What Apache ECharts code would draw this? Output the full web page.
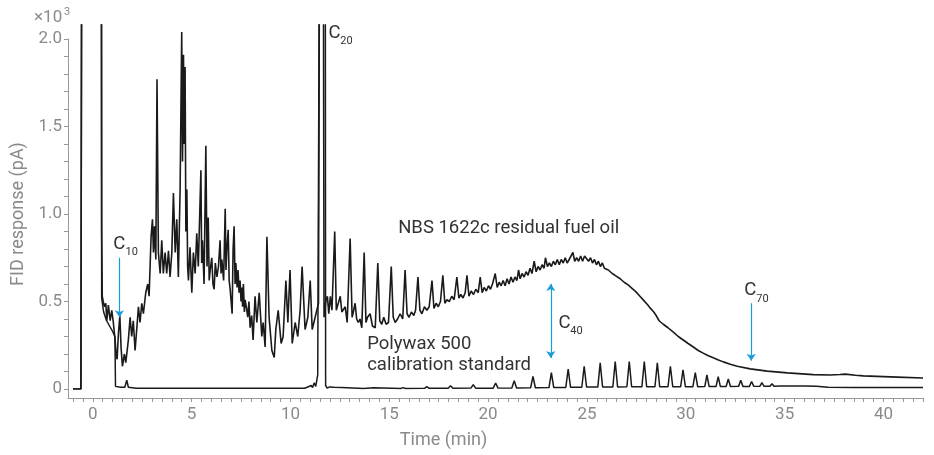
<!DOCTYPE html>
<html><head><meta charset="utf-8">
<script src="https://cdn.jsdelivr.net/npm/echarts@6/dist/echarts.min.js"></script>
<style>html,body{margin:0;padding:0;background:#fff}#c{width:934px;height:455px}</style>
</head><body><div id="c"></div>
<script>
// NBS 1622c residual fuel oil trace (time in min, response x10^3 pA); 3.0 = off-scale
const fuelTime = [-1.0,-0.6,-0.56,0.44,0.45,0.48,0.53,0.59,0.66,0.71,0.79,0.88,0.96,1.04,1.13,1.18,1.23,1.30,1.37,1.43,1.50,1.60,1.67,1.80,1.89,1.97,2.05,2.14,2.23,2.31,2.39,2.48,2.56,2.68,2.78,2.85,2.95,3.02,3.07,3.12,3.19,3.25,3.32,3.41,3.49,3.57,3.66,3.74,3.83,3.91,4.00,4.08,4.17,4.25,4.33,4.42,4.50,4.54,4.59,4.62,4.67,4.71,4.76,4.80,4.84,4.92,5.01,5.09,5.18,5.26,5.34,5.47,5.51,5.55,5.63,5.72,5.78,5.84,5.89,5.94,6.02,6.08,6.14,6.20,6.28,6.36,6.44,6.49,6.53,6.62,6.70,6.74,6.78,6.85,6.90,6.95,7.05,7.10,7.15,7.20,7.24,7.30,7.35,7.40,7.45,7.50,7.54,7.58,7.62,7.67,7.71,7.78,7.84,7.90,7.96,8.04,8.11,8.21,8.30,8.42,8.55,8.62,8.72,8.81,8.92,9.06,9.18,9.26,9.38,9.53,9.63,9.77,9.87,9.98,10.09,10.24,10.37,10.49,10.59,10.74,10.88,11.00,11.10,11.25,11.42,11.48,11.66,11.70,11.80,11.87,11.94,12.02,12.10,12.24,12.32,12.42,12.52,12.60,12.65,12.77,12.87,13.02,13.12,13.20,13.27,13.35,13.43,13.52,13.61,13.73,13.82,13.90,14.03,14.15,14.29,14.42,14.52,14.62,14.72,14.84,14.96,15.10,15.20,15.30,15.42,15.55,15.68,15.80,15.90,16.00,16.12,16.24,16.33,16.45,16.55,16.65,16.78,16.90,17.02,17.16,17.26,17.37,17.48,17.59,17.71,17.81,17.92,18.04,18.16,18.28,18.42,18.52,18.62,18.73,18.84,18.93,19.03,19.14,19.26,19.38,19.50,19.60,19.70,19.80,19.91,20.02,20.12,20.22,20.36,20.46,20.56,20.66,20.76,20.86,20.96,21.06,21.16,21.26,21.36,21.46,21.54,21.62,21.72,21.82,21.92,22.02,22.12,22.22,22.33,22.43,22.53,22.63,22.73,22.83,22.90,23.00,23.10,23.20,23.30,23.40,23.50,23.60,23.70,23.80,23.90,24.00,24.10,24.20,24.29,24.38,24.48,24.58,24.68,24.78,24.88,24.98,25.08,25.18,25.28,25.38,25.48,25.58,25.68,25.78,25.88,25.98,26.08,26.18,26.28,26.38,26.48,26.58,26.68,26.78,26.88,26.98,27.08,27.18,27.28,27.38,27.48,27.58,27.68,27.78,27.88,27.98,28.08,28.18,28.28,28.38,28.50,28.65,28.86,29.10,29.37,29.62,29.87,30.12,30.38,30.63,30.88,31.14,31.39,31.65,31.90,32.25,32.60,33.26,34.12,35.14,36.45,37.31,37.80,38.07,38.58,38.98,40.70,42.00];
const fuelResp = [0.0,0.0,3.0,3.0,0.90,0.53,0.50,0.47,0.49,0.39,0.48,0.39,0.45,0.38,0.28,0.20,0.17,0.32,0.42,0.24,0.13,0.20,0.15,0.28,0.41,0.30,0.39,0.22,0.35,0.47,0.38,0.49,0.43,0.55,0.60,0.53,0.87,0.97,0.78,0.93,0.74,1.77,0.78,0.66,0.85,0.66,0.78,0.66,0.79,0.64,0.78,1.12,0.78,0.97,0.64,1.15,2.04,1.30,1.91,1.40,1.84,0.90,1.14,0.70,0.62,0.81,0.55,0.78,0.66,0.89,0.70,1.25,0.72,0.85,0.60,1.39,0.70,0.98,0.62,0.68,0.75,0.60,0.57,0.72,0.64,0.70,0.85,0.66,0.74,0.62,1.03,0.68,0.79,0.91,0.62,0.57,0.43,0.80,0.93,0.60,0.72,0.58,0.68,0.55,0.62,0.50,0.58,0.47,0.60,0.44,0.51,0.46,0.41,0.50,0.35,0.42,0.28,0.53,0.38,0.55,0.30,0.38,0.24,0.87,0.41,0.22,0.18,0.34,0.45,0.26,0.30,0.62,0.38,0.68,0.26,0.38,0.30,0.45,0.70,0.34,0.41,0.62,0.34,0.41,0.49,3.0,3.0,0.41,0.51,0.53,0.43,0.53,0.45,0.90,0.45,0.49,0.53,0.44,0.43,0.47,0.38,0.86,0.41,0.45,0.49,0.40,0.38,0.40,0.35,0.78,0.38,0.41,0.43,0.36,0.35,0.72,0.39,0.37,0.41,0.37,0.38,0.70,0.41,0.38,0.40,0.43,0.40,0.68,0.43,0.41,0.44,0.42,0.45,0.64,0.45,0.43,0.47,0.45,0.47,0.62,0.46,0.49,0.47,0.50,0.65,0.49,0.51,0.50,0.53,0.51,0.64,0.52,0.54,0.52,0.55,0.65,0.53,0.56,0.54,0.57,0.55,0.64,0.55,0.58,0.56,0.59,0.57,0.60,0.66,0.58,0.61,0.59,0.62,0.59,0.63,0.60,0.64,0.61,0.64,0.62,0.68,0.63,0.66,0.64,0.67,0.65,0.69,0.66,0.73,0.67,0.70,0.68,0.71,0.69,0.75,0.70,0.72,0.70,0.73,0.71,0.74,0.71,0.74,0.72,0.75,0.72,0.74,0.73,0.78,0.73,0.75,0.73,0.76,0.73,0.76,0.77,0.73,0.75,0.72,0.74,0.71,0.73,0.70,0.72,0.69,0.70,0.68,0.69,0.66,0.67,0.645,0.65,0.63,0.635,0.61,0.615,0.595,0.59,0.575,0.57,0.555,0.55,0.53,0.525,0.505,0.50,0.48,0.465,0.455,0.44,0.42,0.39,0.37,0.35,0.325,0.30,0.28,0.26,0.24,0.22,0.205,0.19,0.178,0.166,0.155,0.142,0.13,0.115,0.102,0.092,0.082,0.080,0.083,0.085,0.079,0.075,0.068,0.063];
// Polywax 500 calibration standard trace
const polyTime = [-1.0,-0.6,-0.55,0.43,0.45,0.55,0.70,0.85,1.00,1.12,1.15,1.40,1.62,1.72,1.80,2.20,5.60,5.70,5.80,9.50,9.55,9.65,10.70,10.85,10.95,11.05,11.12,11.20,11.28,11.38,11.48,11.76,11.78,11.86,11.98,12.08,12.20,12.30,12.60,12.70,13.70,14.20,14.30,15.58,15.70,15.82,16.78,16.90,17.02,17.98,18.10,18.22,19.13,19.25,19.37,20.26,20.38,20.50,21.20,21.32,21.44,22.15,22.27,22.39,23.08,23.20,23.32,23.93,24.05,24.17,24.74,24.86,24.98,25.55,25.67,25.79,26.31,26.43,26.55,27.02,27.14,27.26,27.78,27.90,28.02,28.44,28.56,28.68,29.10,29.22,29.34,29.74,29.86,29.98,30.36,30.48,30.60,30.96,31.07,31.18,31.53,31.64,31.75,32.04,32.15,32.26,32.67,32.78,32.89,33.22,33.33,33.44,33.75,33.85,33.95,34.26,34.36,34.46,34.77,34.87,34.97,35.30,35.40,35.50,35.80,35.90,36.00,36.60,37.20,38.50,42.00];
const polyResp = [0.0,0.0,3.0,3.0,0.52,0.44,0.39,0.36,0.33,0.30,0.015,0.01,0.01,0.05,0.01,0.004,0.004,0.01,0.004,0.004,0.008,0.004,0.004,0.01,0.005,0.02,0.008,0.035,0.015,0.08,3.0,3.0,0.02,0.005,0.012,0.004,0.01,0.004,0.008,0.003,0.003,0.007,0.003,0.003,0.008,0.003,0.004,0.013,0.004,0.004,0.018,0.004,0.005,0.025,0.005,0.005,0.034,0.005,0.006,0.047,0.006,0.007,0.072,0.007,0.008,0.093,0.008,0.009,0.114,0.010,0.010,0.130,0.011,0.011,0.150,0.012,0.012,0.157,0.012,0.013,0.157,0.013,0.013,0.157,0.013,0.013,0.150,0.013,0.013,0.130,0.013,0.013,0.110,0.013,0.013,0.093,0.013,0.014,0.080,0.014,0.014,0.070,0.014,0.014,0.057,0.014,0.015,0.050,0.015,0.015,0.043,0.015,0.016,0.036,0.016,0.016,0.030,0.016,0.017,0.026,0.017,0.017,0.023,0.017,0.017,0.020,0.017,0.016,0.010,0.008,0.008];

const fuelData = fuelTime.map((t, i) => [t, fuelResp[i]]);
const polyData = polyTime.map((t, i) => [t, polyResp[i]]);

// annotation texts [text, time, response, fontSize]
const labelTexts = [
  ['C', 1.03, 0.829, 18.5], ['10', 1.66, 0.783, 11],
  ['C', 11.92, 2.034, 18.5], ['20', 12.52, 1.989, 11],
  ['C', 23.56, 0.373, 18.5], ['40', 24.16, 0.331, 11],
  ['C', 32.96, 0.564, 18.5], ['70', 33.57, 0.514, 11],
  ['NBS 1622c residual fuel oil', 15.45, 0.92, 18.5],
  ['Polywax 500\ncalibration standard', 13.88, 0.194, 18.5]
];
// arrows [time, fromResp, toResp, doubleHeaded]
const arrows = [[1.35, 0.75, 0.41, false], [23.17, 0.60, 0.177, true], [33.31, 0.49, 0.162, false]];

const gray = '#8a8a8a';
const axisCol = '#999999';
const font = 'Roboto, "Noto Sans", sans-serif';

const chart = echarts.init(document.getElementById('c'), null, {renderer: 'canvas'});
chart.setOption({
  animation: false,
  backgroundColor: '#fff',
  title: [
    {text: '×10', left: 29, top: 4, textStyle: {color: gray, fontSize: 17, fontWeight: 'normal', fontFamily: font}},
    {text: '3', left: 59, top: 2, textStyle: {color: gray, fontSize: 11, fontWeight: 'normal', fontFamily: font}}
  ],
  grid: [
    {left: 68, right: 11, top: 39, bottom: 57, outerBoundsMode: 'none'},
    {left: 73, right: 11, top: 39, bottom: 66, outerBoundsMode: 'none'},
    {left: 73, right: 11, top: 25, bottom: 66, outerBoundsMode: 'none'}
  ],
  xAxis: [
    {gridIndex: 0, type: 'value', min: 0, max: 1, position: 'bottom', axisLine: {show: true, onZero: false, lineStyle: {color: axisCol, width: 1}}, axisTick: {show: false}, axisLabel: {show: false}, splitLine: {show: false}},
    {gridIndex: 1, type: 'value', min: -1, max: 42, interval: 0.5, offset: 9, position: 'bottom',
      axisLine: {show: false, onZero: false},
      axisTick: {show: true, length: 4, lineStyle: {color: axisCol}},
      axisLabel: {color: gray, fontSize: 17, fontFamily: font, margin: 8,
        formatter: v => { const r = Math.round(v); return (Math.abs(v - r) < 1e-6 && r % 5 === 0) ? String(r) : ''; }},
      splitLine: {show: false},
      name: 'Time (min)', nameLocation: 'middle', nameGap: 33,
      nameTextStyle: {color: gray, fontSize: 18, fontFamily: font, padding: [0, 109, 0, 0]}},
    {gridIndex: 2, type: 'value', min: -1, max: 42, show: false, axisLine: {onZero: false}}
  ],
  yAxis: [
    {gridIndex: 0, type: 'value', min: 0, max: 1, position: 'left', axisLine: {show: true, onZero: false, lineStyle: {color: axisCol, width: 1}}, axisTick: {show: false}, axisLabel: {show: false}, splitLine: {show: false}},
    {gridIndex: 1, type: 'value', min: 0, max: 2, interval: 0.1, offset: 5, position: 'left',
      axisLine: {show: false, onZero: false},
      axisTick: {show: true, length: 4, lineStyle: {color: axisCol}},
      axisLabel: {color: gray, fontSize: 17, fontFamily: font, margin: 6,
        formatter: v => { const k = Math.round(v * 2); return Math.abs(v * 2 - k) < 1e-6 ? (k === 0 ? '0' : (k / 2).toFixed(1)) : ''; }},
      splitLine: {show: false},
      name: 'FID response (pA)', nameLocation: 'middle', nameGap: 40,
      nameTextStyle: {color: gray, fontSize: 18, fontFamily: font}},
    {gridIndex: 2, type: 'value', min: 0, max: 2.08, show: false, axisLine: {onZero: false}}
  ],
  series: [
    {
      name: 'Polywax 500', type: 'line', xAxisIndex: 2, yAxisIndex: 2, data: polyData,
      showSymbol: false, symbol: 'none', clip: true, silent: true,
      lineStyle: {color: '#1a1a1a', width: 1.5}
    },
    {
      name: 'NBS 1622c', type: 'line', xAxisIndex: 2, yAxisIndex: 2, data: fuelData,
      showSymbol: false, symbol: 'none', clip: true, silent: true,
      lineStyle: {color: '#1a1a1a', width: 1.6},
      markLine: {
        silent: true, animation: false, symbolSize: 7,
        label: {show: false},
        lineStyle: {color: '#1b9bd8', width: 1.2, type: 'solid'},
        emphasis: {disabled: true},
        data: arrows.map(a => [
          {coord: [a[0], a[1]], symbol: a[3] ? 'arrow' : 'none'},
          {coord: [a[0], a[2]], symbol: 'arrow'}
        ])
      },
      markPoint: {
        silent: true, animation: false, symbol: 'circle', symbolSize: 1,
        itemStyle: {color: 'rgba(0,0,0,0)'},
        data: labelTexts.map(l => ({
          name: l[0], coord: [l[1], l[2]],
          label: {show: true, position: 'inside', align: 'left', verticalAlign: 'middle',
            formatter: '{b}', color: '#333', fontSize: l[3], fontFamily: font, lineHeight: 20.5}
        }))
      }
    }
  ]
});
</script></body></html>
